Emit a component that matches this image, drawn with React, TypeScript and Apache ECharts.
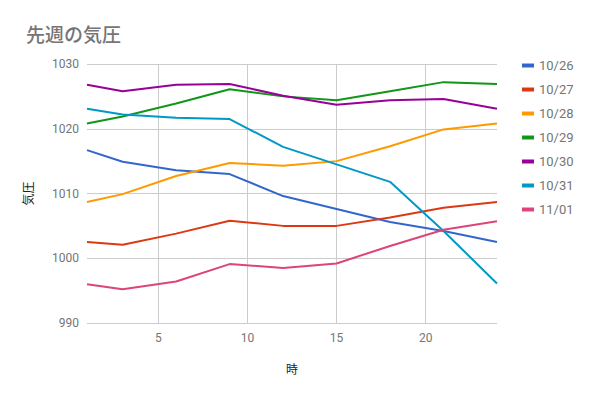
import React, { useEffect, useRef } from "react";
import * as echarts from "echarts";

const hours = [1, 3, 6, 9, 12, 15, 18, 21, 24];
const seriesNames = ["10/26", "10/27", "10/28", "10/29", "10/30", "10/31", "11/01"];
const d1026 = [1016.7, 1014.9, 1013.6, 1013.0, 1009.6, 1007.6, 1005.6, 1004.2, 1002.5];
const d1027 = [1002.5, 1002.1, 1003.8, 1005.8, 1005.0, 1005.0, 1006.3, 1007.8, 1008.7];
const d1028 = [1008.7, 1009.9, 1012.7, 1014.7, 1014.3, 1015.0, 1017.3, 1019.9, 1020.8];
const d1029 = [1020.8, 1021.9, 1023.9, 1026.1, 1025.0, 1024.4, 1025.8, 1027.2, 1026.9];
const d1030 = [1026.8, 1025.8, 1026.8, 1026.9, 1025.1, 1023.7, 1024.4, 1024.6, 1023.1];
const d1031 = [1023.1, 1022.2, 1021.7, 1021.5, 1017.2, 1014.5, 1011.8, 1004.2, 996.1];
const d1101 = [996.0, 995.2, 996.4, 999.1, 998.5, 999.2, 1001.9, 1004.4, 1005.7];
const allData = [d1026, d1027, d1028, d1029, d1030, d1031, d1101];
const colors = ["#3366cc", "#dc3912", "#ff9900", "#109618", "#990099", "#0099c6", "#dd4477"];
const xTicks = [5, 10, 15, 20];

const FONT = "Roboto, 'Noto Sans CJK JP', sans-serif";

export default function App() {
  const ref = useRef<HTMLDivElement>(null);
  useEffect(() => {
    if (!ref.current) return;
    const chart = echarts.init(ref.current, undefined, { renderer: "svg" });
    chart.setOption({
      animation: false,
      backgroundColor: "#ffffff",
      textStyle: { fontFamily: FONT },
      title: {
        text: "先週の気圧",
        left: 21,
        top: 21,
        textStyle: { fontSize: 19, color: "#757575", fontWeight: 500, fontFamily: FONT },
      },
      legend: {
        orient: "vertical",
        left: 517,
        top: 54,
        icon: "rect",
        itemWidth: 12,
        itemHeight: 4,
        itemGap: 11,
        textStyle: { fontSize: 13, color: "#757575", fontFamily: FONT },
        data: seriesNames,
      },
      grid: { left: 87, right: 94, top: 64, bottom: 74 },
      xAxis: {
        type: "value",
        min: 1,
        max: 24,
        name: "時",
        nameLocation: "middle",
        nameGap: 41,
        nameTextStyle: { fontSize: 12, color: "#222222", fontFamily: FONT },
        axisLine: { show: false },
        axisTick: { show: false, customValues: xTicks },
        axisLabel: { customValues: xTicks, fontSize: 12, color: "#757575", margin: 9 },
        splitLine: { show: true, lineStyle: { color: "#cccccc", width: 1 } },
      },
      yAxis: {
        type: "value",
        min: 990,
        max: 1030,
        interval: 10,
        name: "気圧",
        nameLocation: "middle",
        nameGap: 52,
        nameRotate: 90,
        nameTextStyle: { fontSize: 12, color: "#222222", fontFamily: FONT },
        axisLine: { show: false },
        axisTick: { show: false },
        axisLabel: {
          fontSize: 12,
          color: "#757575",
          margin: 8,
          formatter: (v: number) => String(v),
        },
        splitLine: { show: true, lineStyle: { color: "#cccccc", width: 1 } },
      },
      series: seriesNames.map((name, i) => ({
        name,
        type: "line",
        data: hours.map((h, j) => [h, allData[i][j]]),
        showSymbol: false,
        symbol: "none",
        lineStyle: { width: 2, color: colors[i] },
        itemStyle: { color: colors[i] },
      })),
    });
    return () => chart.dispose();
  }, []);
  return (
    <div
      ref={ref}
      style={{ position: "fixed", left: 0, top: 0, width: 591, height: 397 }}
    />
  );
}
